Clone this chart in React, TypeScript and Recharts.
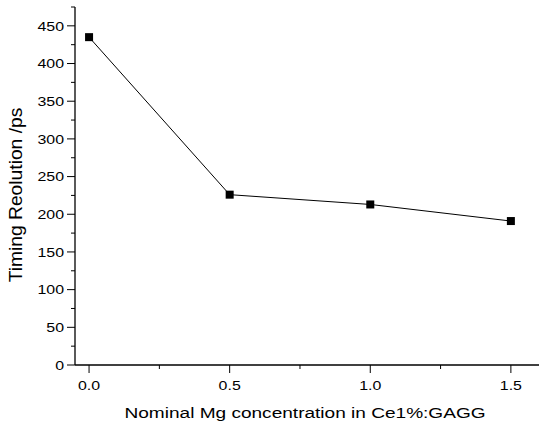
import { LineChart, Line, XAxis, YAxis } from "recharts";

const mgConcentration = [0, 0.5, 1.0, 1.5];
const timingResolution = [435, 226, 213, 191];

const xTicks = [0, 0.25, 0.5, 0.75, 1.0, 1.25, 1.5];
const xMajor = [0, 0.5, 1.0, 1.5];
const yTicks = [0, 25, 50, 75, 100, 125, 150, 175, 200, 225, 250, 275, 300, 325, 350, 375, 400, 425, 450, 475];
const yMajor = [0, 50, 100, 150, 200, 250, 300, 350, 400, 450];

const W = 539;
const H = 426;
const PLOT_LEFT = 75;
const PLOT_TOP = 7;
const PLOT_BOTTOM = 365;
const FONT = "'Liberation Sans', Arial, sans-serif";
// the original picture's text looks horizontally stretched
const TICK_SX = 1.18;

const data = mgConcentration.map((x, i) => ({ x, y: timingResolution[i] }));

const XTick = (props: any) => {
  const { payload } = props;
  const cx = payload.coordinate;
  const major = xMajor.includes(payload.value);
  return (
    <g>
      <line x1={cx} x2={cx} y1={PLOT_BOTTOM} y2={PLOT_BOTTOM + (major ? 8 : 4)} stroke="#000" strokeWidth={1} />
      {major && (
        <text
          transform={`translate(${cx}, ${PLOT_BOTTOM + 24.5}) scale(${TICK_SX}, 1)`}
          textAnchor="middle"
          fontSize={13.5}
          fontFamily={FONT}
          fill="#000"
        >
          {payload.value.toFixed(1)}
        </text>
      )}
    </g>
  );
};

const YTick = (props: any) => {
  const { payload } = props;
  const cy = payload.coordinate;
  const major = yMajor.includes(payload.value);
  return (
    <g>
      <line x1={PLOT_LEFT} x2={PLOT_LEFT - (major ? 8 : 4)} y1={cy} y2={cy} stroke="#000" strokeWidth={1} />
      {major && (
        <text
          transform={`translate(${PLOT_LEFT - 11}, ${cy + 4.8}) scale(${TICK_SX}, 1)`}
          textAnchor="end"
          fontSize={13.5}
          fontFamily={FONT}
          fill="#000"
        >
          {payload.value}
        </text>
      )}
    </g>
  );
};

const XLabel = (props: any) => {
  const vb = props.viewBox || {};
  const cx = vb.x + vb.width / 2 - 2;
  return (
    <text
      transform={`translate(${cx}, 418) scale(1.23, 1)`}
      textAnchor="middle"
      fontSize={15.5}
      fontFamily={FONT}
      fill="#000"
    >
      Nominal Mg concentration in Ce1%:GAGG
    </text>
  );
};

const YLabel = () => (
  <text
    transform="translate(22, 195) rotate(-90) scale(1.07, 1)"
    textAnchor="middle"
    fontSize={18}
    fontFamily={FONT}
    fill="#000"
  >
    Timing Reolution /ps
  </text>
);

const SquareDot = (props: any) => {
  const { cx, cy } = props;
  return <rect x={cx - 4} y={cy - 4} width={8} height={8} fill="#000" />;
};

export default function App() {
  return (
    <div style={{ position: "absolute", left: 0, top: 0, background: "#fff" }}>
      <LineChart
        width={W}
        height={H}
        data={data}
        margin={{ top: PLOT_TOP, right: 0, bottom: 0, left: 0 }}
      >
        <XAxis
          dataKey="x"
          type="number"
          domain={[-0.05, 1.6]}
          ticks={xTicks}
          tick={XTick}
          tickLine={false}
          axisLine={{ stroke: "#000", strokeWidth: 1.3 }}
          height={H - PLOT_BOTTOM}
          interval={0}
          allowDataOverflow
          label={XLabel}
        />
        <YAxis
          type="number"
          domain={[0, 475]}
          ticks={yTicks}
          tick={YTick}
          tickLine={false}
          axisLine={{ stroke: "#000", strokeWidth: 1.3 }}
          width={PLOT_LEFT}
          interval={0}
          allowDataOverflow
          label={YLabel}
        />
        <Line
          dataKey="y"
          stroke="#000"
          strokeWidth={1}
          dot={SquareDot}
          activeDot={false}
          isAnimationActive={false}
        />
      </LineChart>
    </div>
  );
}
